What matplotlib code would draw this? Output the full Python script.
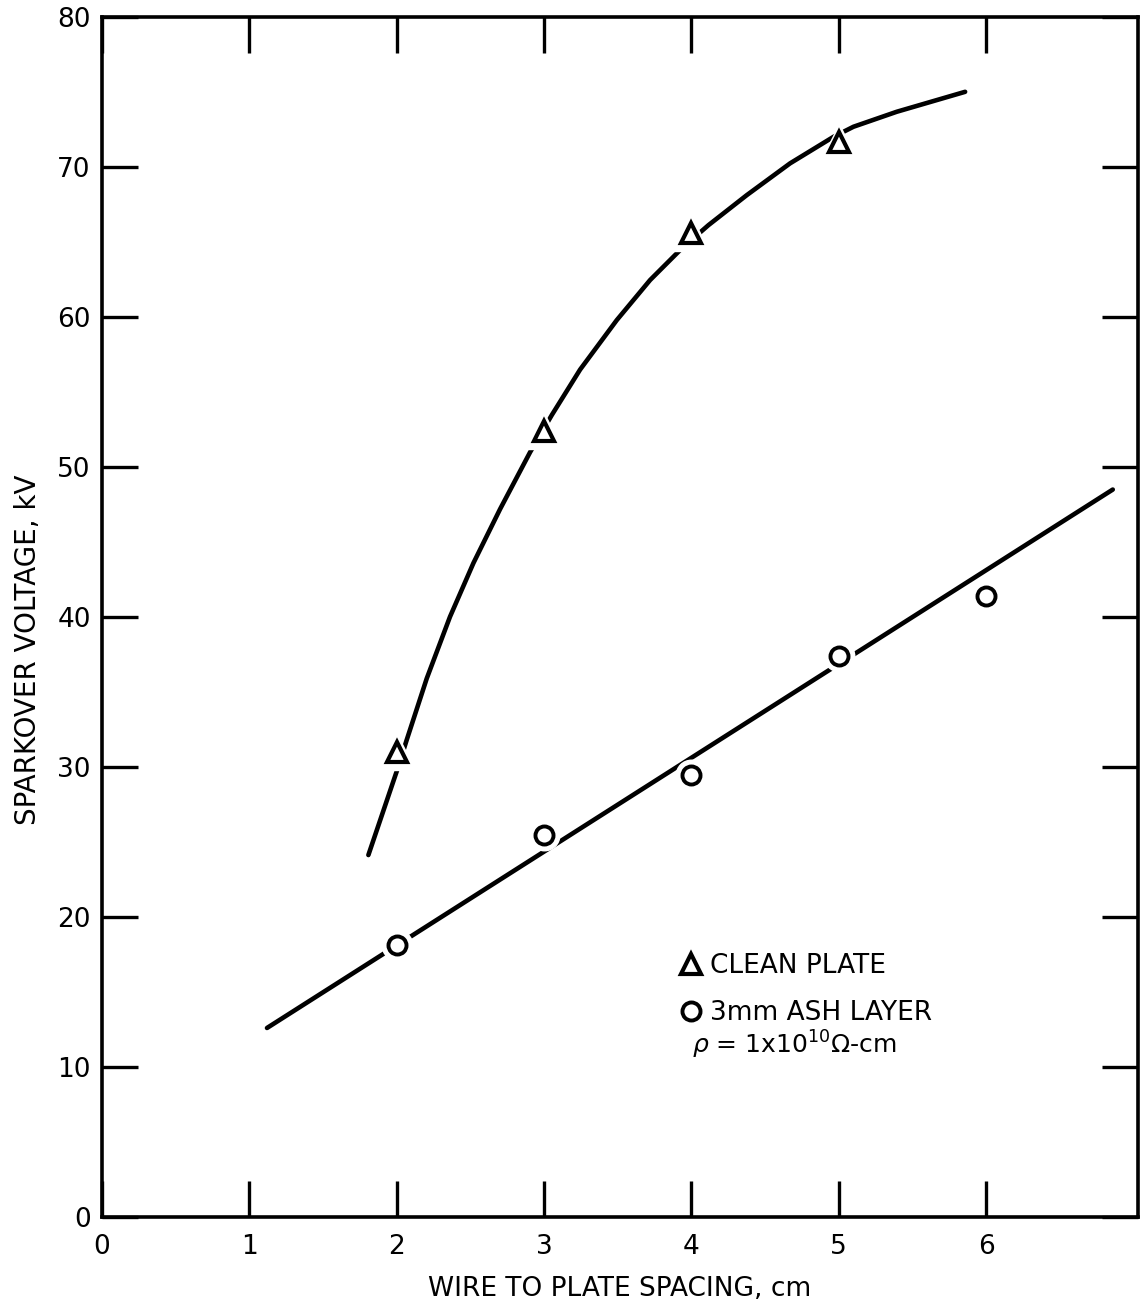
import matplotlib
matplotlib.use("Agg")
import matplotlib.pyplot as plt
from matplotlib.lines import Line2D


# ======================
# data
# ======================
clean_x = [2, 3, 4, 5]
clean_y = [31.0, 52.4, 65.6, 71.7]

ash_x = [2, 3, 4, 5, 6]
ash_y = [18.1, 25.5, 29.5, 37.4, 41.4]

# hand-drawn curve through the clean plate points
clean_curve_x = [1.808, 2.011, 2.068, 2.204, 2.362, 2.521, 2.702, 2.906,
                 3.053, 3.245, 3.494, 3.720, 3.935, 4.116, 4.376, 4.670,
                 4.965, 5.100, 5.394, 5.858]
clean_curve_y = [24.13, 30.02, 31.80, 35.90, 40.02, 43.60, 47.20, 51.00,
                 53.47, 56.50, 59.80, 62.47, 64.58, 66.13, 68.13, 70.25,
                 72.02, 72.69, 73.69, 75.02]

# straight line through the ash layer points
ash_line_x = [1.12, 6.86]
ash_line_y = [12.6, 48.5]

x_ticks = [0, 1, 2, 3, 4, 5, 6]
y_ticks = [0, 10, 20, 30, 40, 50, 60, 70, 80]


# ======================
# figure
# ======================
plt.rcParams["font.family"] = ["DejaVu Sans"]

fig = plt.figure(figsize=(11.47, 13.07), dpi=100)
ax = fig.add_axes([0.0889, 0.0689, 0.9031, 0.918])

lw = 3.3

ax.plot(clean_curve_x, clean_curve_y, color="black", lw=lw,
        solid_capstyle="round", solid_joinstyle="round", zorder=2)
ax.plot(ash_line_x, ash_line_y, color="black", lw=lw,
        solid_capstyle="round", zorder=2)

# white halo behind markers -> gaps in the line
ax.plot(clean_x, clean_y, "^", ms=26, color="white", mec="white", zorder=3)
ax.plot(ash_x, ash_y, "o", ms=22, color="white", mec="white", zorder=3)

ax.plot(clean_x, clean_y, "^", ms=15, mfc="white", mec="black",
        mew=3, zorder=4)
ax.plot(ash_x, ash_y, "o", ms=13, mfc="white", mec="black",
        mew=2.8, zorder=4)


# ======================
# axes
# ======================
ax.set_xlim(0, 7.03)
ax.set_ylim(0, 80)

ax.set_xticks(x_ticks)
ax.set_yticks(y_ticks)

ax.tick_params(axis="both", direction="in", length=26, width=2.4,
               top=True, right=True, labelsize=19, pad=8)
ax.tick_params(axis="x", pad=12)

for s in ax.spines.values():
    s.set_linewidth(2.6)

ax.set_xlabel("WIRE TO PLATE SPACING, cm", fontsize=19, labelpad=12)
ax.set_ylabel("SPARKOVER VOLTAGE, kV", fontsize=20)
ax.yaxis.set_label_coords(-0.058, 0.4725)


# ======================
# legend
# ======================
handles = [
    Line2D([], [], ls="none", marker="^", ms=14, mfc="white",
           mec="black", mew=3),
    Line2D([], [], ls="none", marker="o", ms=13, mfc="white",
           mec="black", mew=2.8),
]
ax.legend(handles, ["CLEAN PLATE", "3mm ASH LAYER"],
          loc="upper left", bbox_to_anchor=(0.536, 0.24),
          frameon=False, handlelength=0.8, handletextpad=0.3,
          labelspacing=0.8, prop={"size": 19})

ax.text(0.57, 0.143, r"$\rho$ = 1x10$^{10}$$\Omega$-cm",
        transform=ax.transAxes, fontsize=18, va="center", ha="left")

plt.savefig("out.png", dpi=100)
plt.close()
